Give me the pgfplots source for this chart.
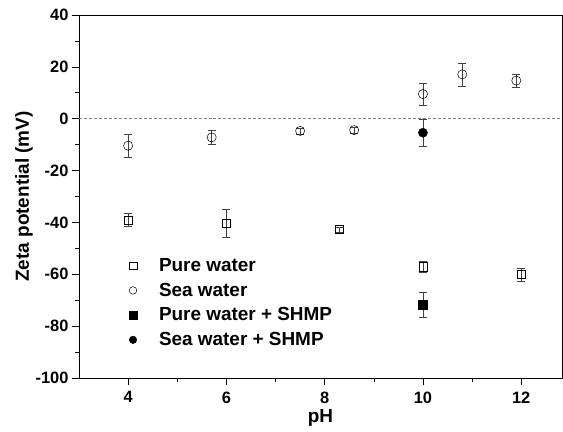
\documentclass[border=0pt]{standalone}
\usepackage{fontspec}
\setmainfont{Liberation Sans}
\usepackage{pgfplots}
\pgfplotsset{compat=1.18}
\begin{document}
\begin{tikzpicture}
\useasboundingbox (-79bp,-54bp) rectangle (484bp,378bp);
\begin{axis}[
  at={(0,0)}, anchor=south west,
  width=483bp, height=363bp, scale only axis,
  xmin=3, xmax=12.83, ymin=-100, ymax=40,
  xtick={4,6,8,10,12}, minor xtick={5,7,9,11},
  ytick={-100,-80,-60,-40,-20,0,20,40},
  yticklabels={-100,-80,-60,-40,-20,0,20,40},
  minor ytick={-90,-70,-50,-30,-10,10,30},
  tick align=outside, tick pos=left,
  major tick length=7bp, minor tick length=4bp,
  tick style={black, line width=0.6pt},
  axis line style={line width=0.8pt},
  /pgf/number format/assume math mode=true,
  ticklabel style={font=\bfseries\fontsize{16.5}{18}\selectfont},
  xticklabel style={yshift=-3bp},
  label style={font=\bfseries\fontsize{19}{21}\selectfont},
  xlabel={pH}, ylabel={Zeta potential (mV)},
  xlabel style={yshift=1bp},
  ylabel style={yshift=-4bp},
  legend style={draw=none, fill=none, at={(0.07,0.335)}, anchor=north west,
    font=\bfseries\fontsize{19}{21}\selectfont, row sep=6bp,
    inner sep=0pt, /tikz/every even column/.append style={column sep=0pt}},
  legend cell align=left,
  legend image code/.code={\path[draw=none,fill=none] (0,0) -- (44bp,0);\draw[#1, mark size=3.8pt] plot coordinates {(20bp,0)};},
  error bars/error bar style={black!75, line width=0.5pt},
  error bars/error mark options={rotate=90, mark size=4pt, black!75, line width=0.5pt},
]
\addplot[gray, densely dashed, line width=0.5pt, forget plot] coordinates {(3,0) (12.83,0)};
\addplot[only marks, mark=square, mark size=4.2pt, black, mark options={line width=0.5pt},
  error bars/.cd, y dir=both, y explicit] coordinates {
  (4,-39.1) +- (0,2.5)
  (6,-40.3) +- (0,5.4)
  (8.3,-42.7) +- (0,1.0)
  (10,-57.1) +- (0,2.0)
  (12,-60.0) +- (0,2.5)
};
\addlegendentry{Pure water}
\addplot[only marks, mark=o, mark size=4.6pt, black, mark options={line width=0.5pt},
  error bars/.cd, y dir=both, y explicit] coordinates {
  (4,-10.4) +- (0,4.4)
  (5.7,-7.2) +- (0,2.7)
  (7.5,-4.7) +- (0,1.2)
  (8.6,-4.4) +- (0,1.2)
  (10,9.5) +- (0,4.3)
  (10.8,17.1) +- (0,4.4)
  (11.9,14.7) +- (0,2.4)
};
\addlegendentry{Sea water}
\addplot[only marks, mark=square*, mark size=4.3pt, black,
  error bars/.cd, y dir=both, y explicit] coordinates {
  (10,-71.8) +- (0,4.8)
};
\addlegendentry{Pure water + SHMP}
\addplot[only marks, mark=*, mark size=4.6pt, black,
  error bars/.cd, y dir=both, y explicit] coordinates {
  (10,-5.4) +- (0,5.3)
};
\addlegendentry{Sea water + SHMP}
\end{axis}
\end{tikzpicture}
\end{document}
